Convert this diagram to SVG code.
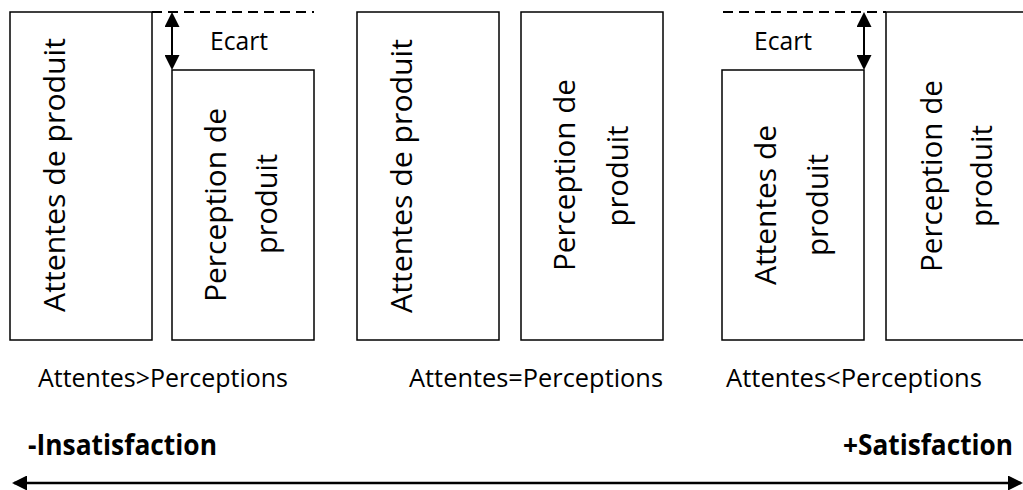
<svg xmlns="http://www.w3.org/2000/svg" width="1023" height="490" viewBox="0 0 1023 490">
  <style>
    .box { fill: #ffffff; stroke: #000000; stroke-width: 1.5; }
    .t { font-family: "Open Sans", "Liberation Sans", sans-serif; fill: #000000; }
    .big { font-size: 30px; text-anchor: middle; }
    .lbl { font-size: 25px; }
    .bold { font-size: 28px; font-weight: bold; }
    .dash { stroke: #000000; stroke-width: 2; stroke-dasharray: 10 6; fill: none; }
    .arr { stroke: #000000; stroke-width: 2; fill: none; }
    .axis { stroke: #000000; stroke-width: 2.5; fill: none; }
  </style>
  <defs>
    <marker id="head" markerUnits="userSpaceOnUse" markerWidth="15" markerHeight="15" refX="13" refY="7.5" orient="auto-start-reverse">
      <path d="M0,0 L15,7.5 L0,15 z" fill="#000000"/>
    </marker>
  </defs>
  <rect width="1023" height="490" fill="#ffffff"/>

  <g id="attentes1">
    <rect class="box" x="10" y="12" width="142" height="328"/>
    <text class="t big" transform="translate(65,175) rotate(-90)" textLength="274" lengthAdjust="spacingAndGlyphs">Attentes de produit</text>
  </g>
  <g id="perception1">
    <rect class="box" x="172" y="70" width="142" height="270"/>
    <text class="t big" transform="translate(226,205) rotate(-90)" textLength="194" lengthAdjust="spacingAndGlyphs">Perception de</text>
    <text class="t big" transform="translate(277,204) rotate(-90)" textLength="100" lengthAdjust="spacingAndGlyphs">produit</text>
  </g>
  <g id="attentes2">
    <rect class="box" x="357" y="12" width="142" height="328"/>
    <text class="t big" transform="translate(412,176) rotate(-90)" textLength="274" lengthAdjust="spacingAndGlyphs">Attentes de produit</text>
  </g>
  <g id="perception2">
    <rect class="box" x="521" y="12" width="142" height="328"/>
    <text class="t big" transform="translate(575,175) rotate(-90)" textLength="192" lengthAdjust="spacingAndGlyphs">Perception de</text>
    <text class="t big" transform="translate(628,176) rotate(-90)" textLength="101" lengthAdjust="spacingAndGlyphs">produit</text>
  </g>
  <g id="attentes3">
    <rect class="box" x="722" y="70" width="142" height="270"/>
    <text class="t big" transform="translate(776,205) rotate(-90)" textLength="160" lengthAdjust="spacingAndGlyphs">Attentes de</text>
    <text class="t big" transform="translate(828,205) rotate(-90)" textLength="102" lengthAdjust="spacingAndGlyphs">produit</text>
  </g>
  <g id="perception3">
    <rect class="box" x="886" y="12" width="142" height="328"/>
    <text class="t big" transform="translate(942,176) rotate(-90)" textLength="192" lengthAdjust="spacingAndGlyphs">Perception de</text>
    <text class="t big" transform="translate(992,176) rotate(-90)" textLength="102" lengthAdjust="spacingAndGlyphs">produit</text>
  </g>

  <g id="connectors">
    <line class="dash" x1="152" y1="12" x2="314" y2="12"/>
    <line class="dash" x1="723" y1="12" x2="886" y2="12"/>
    <line class="arr" x1="172" y1="14" x2="172" y2="68" marker-start="url(#head)" marker-end="url(#head)"/>
    <line class="arr" x1="864" y1="14" x2="864" y2="68" marker-start="url(#head)" marker-end="url(#head)"/>
    <line class="axis" x1="14" y1="483" x2="1021" y2="483" marker-start="url(#head)" marker-end="url(#head)"/>
  </g>

  <g id="ecart1">
    <text class="t lbl" x="210" y="50" textLength="58" lengthAdjust="spacingAndGlyphs">Ecart</text>
  </g>
  <g id="ecart2">
    <text class="t lbl" x="754" y="50" textLength="58" lengthAdjust="spacingAndGlyphs">Ecart</text>
  </g>
  <g id="cond1">
    <text class="t lbl" x="38" y="387" textLength="250" lengthAdjust="spacingAndGlyphs">Attentes&gt;Perceptions</text>
  </g>
  <g id="cond2">
    <text class="t lbl" x="409" y="387" textLength="254" lengthAdjust="spacingAndGlyphs">Attentes=Perceptions</text>
  </g>
  <g id="cond3">
    <text class="t lbl" x="726" y="387" textLength="256" lengthAdjust="spacingAndGlyphs">Attentes&lt;Perceptions</text>
  </g>
  <g id="insatisfaction">
    <text class="t bold" x="28" y="455" textLength="189" lengthAdjust="spacingAndGlyphs">-Insatisfaction</text>
  </g>
  <g id="satisfaction">
    <text class="t bold" x="843" y="455" textLength="170" lengthAdjust="spacingAndGlyphs">+Satisfaction</text>
  </g>
</svg>
